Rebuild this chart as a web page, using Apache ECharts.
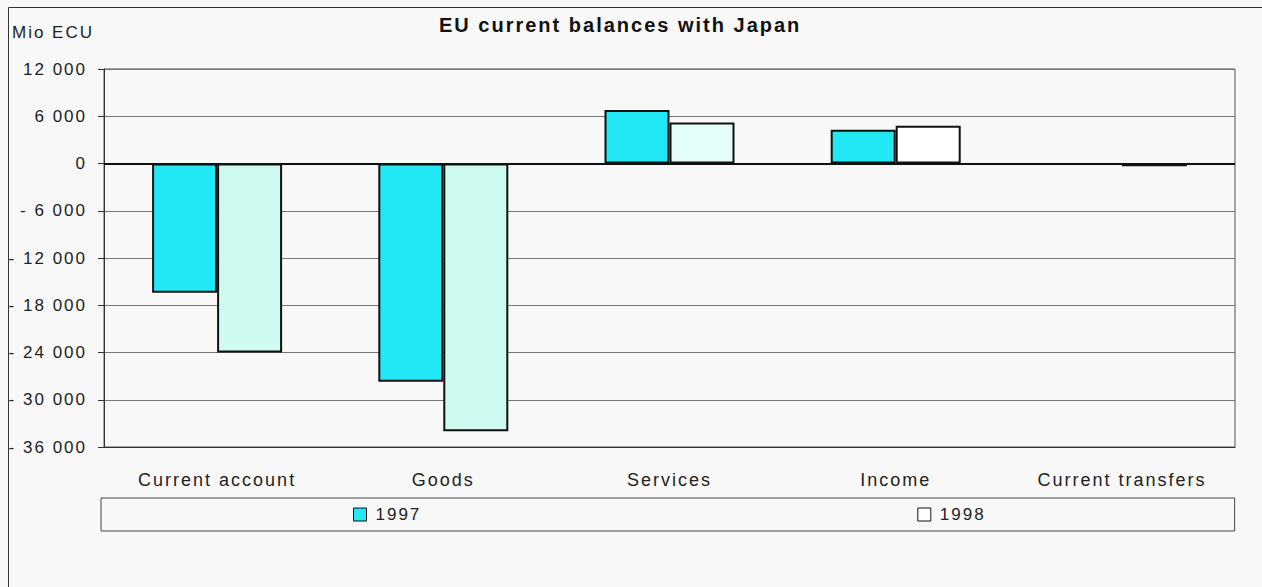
<!DOCTYPE html>
<html>
<head>
<meta charset="utf-8">
<script src="https://cdn.jsdelivr.net/npm/echarts@6/dist/echarts.min.js"></script>
<style>
html,body{margin:0;padding:0;background:#f8f8f8;}
#c{width:1262px;height:587px;}
#c svg text{letter-spacing:2px;}
</style>
</head>
<body>
<div id="c"></div>
<script>
var categories = ['Current account', 'Goods', 'Services', 'Income', 'Current transfers'];
var values1997 = [-16400, -27700, 6800, 4300, -100];
var values1998 = [-24000, -34000, 5200, 4800, -350];
var seriesNames = ['1997', '1998'];
var yTicks = [12000, 6000, 0, -6000, -12000, -18000, -24000, -30000, -36000];

var fill1998 = ['#cefbf1', '#cefbf1', '#e4fdf8', '#ffffff', '#ffffff'];

function fmtNum(v) {
  var s = String(Math.abs(v));
  var out = '';
  while (s.length > 3) { out = ' ' + s.slice(-3) + out; s = s.slice(0, -3); }
  out = s + out;
  return v < 0 ? '- ' + out : out;
}

var chart = echarts.init(document.getElementById('c'), null, {renderer: 'svg'});
var font = 'Liberation Sans, Arial, sans-serif';

chart.setOption({
  backgroundColor: '#f8f8f8',
  animation: false,
  title: {
    text: 'EU current balances with Japan',
    left: 434,
    top: 10,
    textStyle: {fontFamily: font, fontSize: 20, fontWeight: 'bold', color: '#111'}
  },
  graphic: [
    {type: 'rect', left: 6, top: 5, shape: {width: 1270, height: 600},
     style: {fill: 'none', stroke: '#333', lineWidth: 1}, silent: true, z: -1},
    {type: 'text', left: 12, top: 24,
     style: {text: 'Mio ECU', font: '17px Liberation Sans, Arial, sans-serif', fill: '#222'}}
  ],
  legend: {
    left: 101,
    top: 498,
    padding: [8, 257, 8, 252],
    borderColor: '#444',
    borderWidth: 1,
    itemGap: 504,
    itemWidth: 13,
    itemHeight: 13,
    icon: 'rect',
    textStyle: {fontFamily: font, fontSize: 17, color: '#222', padding: [0, 0, 0, 4]},
    data: [
      {name: seriesNames[0], itemStyle: {color: '#22e8f5', borderColor: '#111', borderWidth: 1}},
      {name: seriesNames[1], itemStyle: {color: '#ffffff', borderColor: '#111', borderWidth: 1}}
    ]
  },
  grid: {left: 104, right: 27, top: 69, bottom: 140, show: true, borderColor: '#555', borderWidth: 1, backgroundColor: 'transparent'},
  xAxis: {
    type: 'category',
    data: categories,
    axisLine: {onZero: false, lineStyle: {color: '#333', width: 1}},
    axisTick: {show: false},
    axisLabel: {margin: 24, fontFamily: font, fontSize: 18, color: '#222'}
  },
  yAxis: {
    type: 'value',
    min: -36000,
    max: 12000,
    interval: 6000,
    axisLine: {show: true, lineStyle: {color: '#333', width: 1}},
    axisTick: {show: true, length: 6, lineStyle: {color: '#333'}},
    splitLine: {show: true, lineStyle: {color: '#777', width: 1}},
    axisLabel: {
      margin: 17,
      fontFamily: font, fontSize: 17, color: '#222',
      formatter: function (v) { return yTicks.indexOf(v) >= 0 ? fmtNum(v) : ''; }
    }
  },
  series: [
    {
      name: seriesNames[0],
      type: 'bar',
      data: values1997,
      barWidth: 65,
      barGap: '0%',
      itemStyle: {color: '#22e8f5', borderColor: '#111', borderWidth: 2},
      markLine: {
        silent: true, symbol: 'none', label: {show: false},
        lineStyle: {color: '#111', width: 2, type: 'solid'},
        data: [{yAxis: 0}]
      }
    },
    {
      name: seriesNames[1],
      type: 'bar',
      data: values1998.map(function (v, i) { return {value: v, itemStyle: {color: fill1998[i]}}; }),
      barWidth: 65,
      barGap: '0%',
      itemStyle: {borderColor: '#111', borderWidth: 2}
    }
  ]
});
</script>
</body>
</html>
